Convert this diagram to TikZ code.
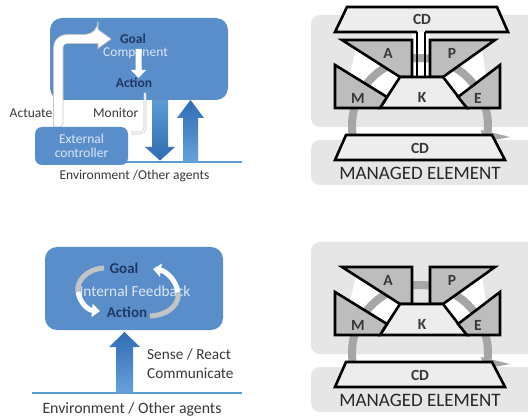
\documentclass[tikz,border=0pt]{standalone}
\usepackage{fontspec}
\setmainfont{Carlito}
\usetikzlibrary{arrows.meta}

\definecolor{panelblue}{HTML}{5A8ECB}
\definecolor{paletext}{HTML}{DCE6F2}
\definecolor{navytext}{HTML}{1F3864}
\definecolor{envline}{HTML}{5B9BD5}
\definecolor{arrowdark}{HTML}{2F6CB3}
\definecolor{arrowlight}{HTML}{66A2DC}
\definecolor{bggrey}{HTML}{E6E6E6}
\definecolor{blockgrey}{HTML}{BDBDBD}
\definecolor{lightblock}{HTML}{EDEDED}
\definecolor{ringgrey}{HTML}{A6A6A6}
\definecolor{labelgrey}{HTML}{383838}
\definecolor{loopgrey}{HTML}{C4C4C4}

\tikzset{
  txt/.style={inner sep=0pt, text=labelgrey},
  topfont/.style={font=\fontsize{13.5}{15}\selectfont},
  botfont/.style={font=\fontsize{15.3}{17}\selectfont},
  blockline/.style={draw=black, line width=2.6pt, line join=miter},
  mapeletter/.style={inner sep=0pt, text=labelgrey, font=\fontsize{15.5}{15.5}\selectfont\bfseries},
  melabel/.style={inner sep=0pt, text=black!85, font=\fontsize{19}{19}\selectfont},
  envrule/.style={envline, line width=1.5pt},
}

% MAPE-K assembly; #1 is drawn before the feedback ring
\newcommand\mapekpanel[1]{%
  \fill[bggrey, rounded corners=9] (311,15) rectangle (560,127);
  \fill[bggrey, rounded corners=9] (311,140) rectangle (560,185);
  \fill[white] (356,49) -- (400,77) -- (387,97) -- (350,74) -- cycle;
  \fill[white] (482,49) -- (443,77) -- (458,97) -- (486,76) -- cycle;
  #1
  \draw[ringgrey, line width=8pt] (420,126) ++(-188:68) arc[start angle=-188, end angle=5, radius=68];
  \fill[ringgrey] (481,130) -- (510,137) -- (484,142) -- cycle;
  \filldraw[blockline, fill=blockgrey] (342,40) -- (412,40) -- (412,77) -- (400,77) -- cycle;
  \filldraw[blockline, fill=blockgrey] (495,40) -- (430,40) -- (430,77) -- (443,77) -- cycle;
  \filldraw[blockline, fill=lightblock] (400,77) -- (443,77) -- (467,108) -- (380,108) -- cycle;
  \filldraw[blockline, fill=blockgrey] (335,65) -- (387,97) -- (380,108) -- (335,108) -- cycle;
  \filldraw[blockline, fill=blockgrey] (500,65) -- (458,97) -- (467,108) -- (500,108) -- cycle;
  \filldraw[blockline, fill=lightblock] (346,135) -- (492,135) -- (505,160) -- (335,160) -- cycle;
}

\begin{document}
\begin{tikzpicture}[x=1pt, y=-1pt]
\useasboundingbox (0,0) rectangle (528,417);
\clip (0,0) rectangle (528,417);
\fill[white] (0,0) rectangle (528,417);

% ---------- agent with external controller ----------
\fill[panelblue, rounded corners=12] (50,18) rectangle (228,100);
\draw[envrule] (60,162) -- (242,162);

% actuate path from the controller into the goal component
\filldraw[fill=white, draw=gray!45, line width=0.7pt]
  (53.5,127) [rounded corners=13] -- (53.5,34.5) -- (98,34.5) [sharp corners]
  -- (98,29.5) -- (111,39) -- (98,48.5) -- (98,43.5) [rounded corners=4]
  -- (63,43.5) -- (63,127) [sharp corners] -- cycle;

\node[txt, font=\fontsize{13.5}{15}\selectfont\bfseries, text=navytext] (goal) at (133,39) {Goal};
\node[txt, topfont, text=paletext] (comp) at (135.5,53.5) {Component};
\node[txt, font=\fontsize{13.5}{15}\selectfont\bfseries, text=navytext] (action) at (134,83) {Action};

% goal to action
\fill[white] (135.5,49) -- (141.5,49) -- (141.5,70) -- (146,70) -- (138.5,78)
  -- (131,70) -- (135.5,70) -- cycle;

% monitor link
\draw[draw=gray!45, double=white, double distance=1.4pt, line width=0.6pt, rounded corners=5]
  (145,93) -- (145,133) -- (131,133);

\node[fill=panelblue, rounded corners=7, minimum width=93, minimum height=38,
      inner sep=0pt, text=paletext, align=center, topfont] (ctrl) at (81.5,146)
      {External\\[-1pt]controller};

\node[txt, topfont, anchor=east] (actuate) at (52.5,113) {Actuate};
\node[txt, topfont, anchor=west] (monitor) at (93,113) {Monitor};

% outputs and inputs to the environment
\shade[top color=envline, bottom color=arrowdark]
  (152,100) -- (168,100) -- (168,147) -- (175,147) -- (160,160.5) -- (145,147) -- (152,147) -- cycle;
\shade[top color=arrowdark, bottom color=arrowlight]
  (190.5,100) -- (204,118) -- (198,118) -- (198,162) -- (183,162) -- (183,118) -- (177,118) -- cycle;

\node[txt, topfont] (env1) at (134.5,176) {Environment /Other agents};

% ---------- agent with internal feedback ----------
\fill[panelblue, rounded corners=12] (45,247) rectangle (223,330);
\node[txt, font=\fontsize{15}{17}\selectfont\bfseries, text=navytext] (goal2) at (124,268) {Goal};
\node[txt, botfont, text=paletext] (feedback) at (135,291) {Internal Feedback};
\node[txt, font=\fontsize{15}{17}\selectfont\bfseries, text=navytext] (action2) at (127,312) {Action};

\draw[loopgrey, line width=5pt] (104,268) .. controls (86,269) and (76,282) .. (78,292);
\draw[white, line width=5pt, -{Triangle[width=13pt,length=8pt]}]
  (78,292) .. controls (80,303) and (88,310) .. (100,311);
\draw[loopgrey, line width=5pt] (150,316) .. controls (170,315) and (180,303) .. (178,292);
\draw[white, line width=5pt, -{Triangle[width=13pt,length=8pt]}]
  (178,292) .. controls (176,280) and (166,271) .. (153,269);

\draw[envrule] (32,393) -- (242,393);
\shade[top color=arrowdark, bottom color=arrowlight]
  (124.5,332) -- (140,347) -- (133,347) -- (133,393) -- (116,393) -- (116,347) -- (109,347) -- cycle;

\node[txt, botfont, anchor=west] (sense) at (147,355) {Sense / React};
\node[txt, botfont, anchor=west] (comm) at (147,373) {Communicate};
\node[txt, font=\fontsize{15.8}{17}\selectfont] (env2) at (132,409) {Environment / Other agents};

% ---------- managed element with top control ----------
\mapekpanel{\fill[white] (412,32) rectangle (430,77);}
\filldraw[blockline, fill=lightblock] (417,32) -- (335,32) -- (347,7) -- (497,7) -- (508,32) -- (425,32);
\draw[blockline] (417,32) -- (417,77) -- (412,77);
\draw[blockline] (425,32) -- (425,77) -- (430,77);
\node[mapeletter] (cdtop) at (422,19) {CD};
\node[mapeletter] (a1) at (388,53) {A};
\node[mapeletter] (p1) at (452,53) {P};
\node[mapeletter] (m1) at (358,98) {M};
\node[mapeletter] (k1) at (422,97) {K};
\node[mapeletter] (e1) at (478,98) {E};
\node[mapeletter] (cd1) at (420,148) {CD};
\node[melabel] (me1) at (420,173) {MANAGED ELEMENT};

% ---------- managed element on its own ----------
\begin{scope}[shift={(0,227)}]
\mapekpanel{}
\node[mapeletter] (a2) at (388,53) {A};
\node[mapeletter] (p2) at (452,53) {P};
\node[mapeletter] (m2) at (358,98) {M};
\node[mapeletter] (k2) at (422,97) {K};
\node[mapeletter] (e2) at (478,98) {E};
\node[mapeletter] (cd2) at (420,148) {CD};
\node[melabel] (me2) at (420,173) {MANAGED ELEMENT};
\end{scope}
\end{tikzpicture}
\end{document}
